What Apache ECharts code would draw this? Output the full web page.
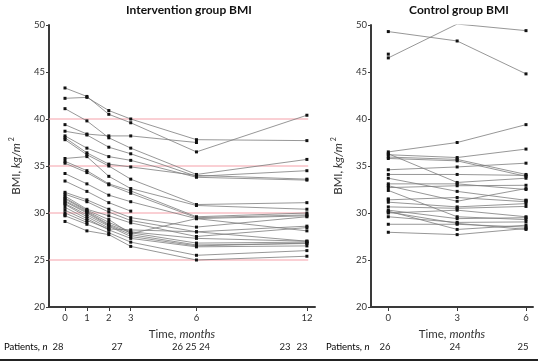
<!DOCTYPE html>
<html>
<head>
<meta charset="utf-8">
<script src="https://cdn.jsdelivr.net/npm/echarts@6/dist/echarts.min.js"></script>
<style>
html,body{margin:0;padding:0;background:#fff;}
#chart{width:538px;height:361px;}
</style>
</head>
<body>
<div id="chart"></div>
<script>
// ---------- DATA ----------
const interventionMonths = [0, 1, 2, 3, 6, 12];
const controlMonths = [0, 3, 6];
const yTicks = [20, 25, 30, 35, 40, 45, 50];
const referenceLines = [25, 30, 35, 40];

// Intervention group BMI per patient (months 0,1,2,3,6,12); null = missing
const interventionBMI = [
  [43.3, 42.4, 40.5, 39.6, 36.5, 40.4],
  [42.2, 42.3, 40.9, 40.0, 37.8, 37.7],
  [41.1, 39.8, 38.0, 36.9, 34.1, 35.7],
  [39.4, 38.4, 38.2, 38.2, 37.5, null],
  [38.7, 38.3, 37.0, 36.3, 33.9, 34.5],
  [38.2, 36.9, 36.0, 35.6, 33.8, 33.5],
  [38.0, 36.4, 35.2, 34.9, 34.0, 33.6],
  [37.8, 36.2, 35.0, 33.6, 30.9, 31.1],
  [35.8, 36.0, 33.9, 32.6, 30.8, 30.4],
  [35.5, 34.5, 33.1, 32.35, 29.6, 30.0],
  [35.3, 34.3, 33.0, 32.1, 29.5, 29.8],
  [34.2, 33.1, 31.9, 31.2, 29.4, 29.7],
  [33.4, 32.3, 31.1, 30.2, null, null],
  [32.2, 31.4, 30.4, 29.5, 28.5, 29.6],
  [32.0, 31.2, 30.1, 29.2, 28.0, 28.6],
  [31.8, 30.4, 29.7, 28.95, 27.5, 28.45],
  [31.6, 30.3, 29.3, 27.8, 29.4, 28.1],
  [31.5, 30.2, 29.0, 28.0, 27.3, 27.0],
  [31.3, 30.1, 28.8, 27.9, 26.8, 26.9],
  [31.2, 30.0, 28.7, 27.7, 26.6, 26.75],
  [31.0, 29.8, 28.6, 27.5, 26.5, 26.8],
  [30.9, 29.6, 28.4, null, null, null],
  [30.6, 29.4, 28.2, 27.3, 26.4, 26.5],
  [30.3, 29.2, 28.3, 28.2, 28.0, 27.0],
  [30.0, 29.0, null, null, null, null],
  [29.8, null, null, null, null, null],
  [29.7, 28.8, 27.9, 26.9, 25.5, 26.0],
  [29.1, 28.1, 27.7, 26.45, 25.0, 25.4]
];

// Control group BMI per patient (months 0,3,6)
const controlBMI = [
  [49.3, 48.3, 44.8],
  [46.5, 50.1, 49.4],
  [46.9, null, null],
  [36.5, 37.5, 39.4],
  [36.3, 33.25, 33.7],
  [36.2, 35.9, 36.8],
  [35.95, 35.7, 34.1],
  [35.8, 35.55, 33.9],
  [34.6, 34.9, 35.3],
  [34.1, 34.1, 34.0],
  [33.7, 32.3, 31.35],
  [33.1, 33.1, 32.5],
  [32.9, 31.25, 32.6],
  [32.7, 32.9, 32.95],
  [32.4, 29.6, 29.3],
  [31.4, 31.65, 31.2],
  [31.15, 30.65, 31.0],
  [30.65, 30.5, 30.7],
  [30.3, 29.4, 29.5],
  [30.2, 28.25, 28.7],
  [30.0, 30.3, 29.6],
  [29.6, 29.0, 29.05],
  [28.8, 28.8, 28.5],
  [27.95, 27.7, 28.35],
  [31.5, null, 31.35],
  [30.1, 28.9, 28.25]
];

const patientsLeft = ['28', '27', '26 25 24', '23', '23'];
const patientsRight = ['26', '24', '25'];

// ---------- AXIS MAPPING (the original time axis is compressed after month 6) ----------
const compress = 5.04 / 6;
function pos(m) { return m <= 6 ? m : 6 + (m - 6) * compress; }
function invPos(p) { return p <= 6 ? p : 6 + (p - 6) / compress; }

const leftMin = -0.73, leftMax = 11.41;
const rightMin = -0.754, rightMax = 6.305;

const FONT = 'Lato, "Open Sans", sans-serif';
const axisColor = '#3a3a3a';

function mkX(gridIndex, min, max, ticks) {
  const tp = ticks.map(pos);
  return {
    type: 'value', gridIndex, min, max,
    name: '{a|Time, }{b|months}',
    nameLocation: 'middle', nameGap: 16,
    nameTextStyle: { rich: {
      a: { fontFamily: FONT, fontSize: 11.5, color: '#333' },
      b: { fontFamily: FONT, fontSize: 11.5, color: '#333', fontStyle: 'italic' }
    }},
    axisLine: { show: true, onZero: false, lineStyle: { color: axisColor, width: 2 } },
    axisTick: { show: true, customValues: tp, length: 4, lineStyle: { color: axisColor, width: 1 } },
    axisLabel: { customValues: tp, margin: 6, fontSize: 9.5, color: '#333', fontFamily: FONT,
      formatter: v => String(Math.round(invPos(v))) },
    splitLine: { show: false }
  };
}
function mkY(gridIndex, gap) {
  return {
    type: 'value', gridIndex, min: 20, max: 50, interval: 5,
    name: '{a|BMI, }{b|kg/m}{s|2}',
    nameLocation: 'middle', nameGap: gap,
    nameTextStyle: { rich: {
      a: { fontFamily: FONT, fontSize: 11.5, color: '#333' },
      b: { fontFamily: FONT, fontSize: 11.5, color: '#333', fontStyle: 'italic' },
      s: { fontFamily: FONT, fontSize: 7, color: '#333', verticalAlign: 'top', padding: [0, 0, 10, 2] }
    }},
    axisLine: { show: true, onZero: false, lineStyle: { color: axisColor, width: 2 } },
    axisTick: { show: true, length: 3, lineStyle: { color: axisColor, width: 1 } },
    axisLabel: { margin: 4, fontSize: 9.5, color: '#333', fontFamily: FONT,
      customValues: yTicks },
    splitLine: { show: false }
  };
}

const series = [];
// reference lines (intervention panel)
referenceLines.forEach(v => {
  series.push({
    type: 'line', xAxisIndex: 0, yAxisIndex: 0, z: 1, silent: true,
    data: [[leftMin, v], [pos(12) + 0.06, v]],
    symbol: 'none', showSymbol: false,
    lineStyle: { color: '#f5a0a9', width: 1 },
    emphasis: { disabled: true }, animation: false
  });
});
function addPatient(vals, months, axisIndex) {
  series.push({
    type: 'line', xAxisIndex: axisIndex, yAxisIndex: axisIndex, z: 3,
    data: months.map((m, i) => [pos(m), vals[i] == null ? '-' : vals[i]]),
    symbol: 'rect', symbolSize: 3, showSymbol: true, showAllSymbol: true,
    itemStyle: { color: '#111' },
    lineStyle: { color: '#7c7c7c', width: 0.8 },
    emphasis: { disabled: true }, silent: true, animation: false
  });
}
interventionBMI.forEach(v => addPatient(v, interventionMonths, 0));
controlBMI.forEach(v => addPatient(v, controlMonths, 1));

const textStyle = (extra) => Object.assign({ fontFamily: FONT, fontSize: 11, fill: '#222' }, extra);
const patRich = { a: { fontFamily: FONT, fontSize: 9.5, color: '#222' }, b: { fontFamily: FONT, fontSize: 9.5, color: '#222', fontStyle: 'italic' } };
const graphic = [
  { type: 'text', x: 189, y: 10, style: textStyle({ text: 'Intervention group BMI', fontWeight: 'bold', fontSize: 12, textAlign: 'center', textVerticalAlign: 'middle', fill: '#111' }) },
  { type: 'text', x: 459, y: 10, style: textStyle({ text: 'Control group BMI', fontWeight: 'bold', fontSize: 12, textAlign: 'center', textVerticalAlign: 'middle', fill: '#111' }) },
  { type: 'text', x: 4, y: 347, style: { rich: patRich, text: '{a|Patients, }{b|n}', verticalAlign: 'middle' } },
  { type: 'text', x: 326, y: 347, style: { rich: patRich, text: '{a|Patients, }{b|n}', verticalAlign: 'middle' } },
  { type: 'line', shape: { x1: 0, y1: 360, x2: 538, y2: 360 }, style: { stroke: '#222', lineWidth: 2 } }
];
const leftCountX = [58, 117, 191, 285, 302];
patientsLeft.forEach((t, i) => graphic.push({ type: 'text', x: leftCountX[i], y: 347, style: textStyle({ text: t, fontSize: 9.5, textAlign: 'center', textVerticalAlign: 'middle' }) }));
const rightCountX = [385, 455, 523];
patientsRight.forEach((t, i) => graphic.push({ type: 'text', x: rightCountX[i], y: 347, style: textStyle({ text: t, fontSize: 9.5, textAlign: 'center', textVerticalAlign: 'middle' }) }));

const chart = echarts.init(document.getElementById('chart'), null, { renderer: 'canvas' });
chart.setOption({
  animation: false,
  backgroundColor: '#fff',
  grid: [
    { left: 43, right: 223, top: 25, bottom: 54, containLabel: false },
    { left: 371, right: 5, top: 25, bottom: 54, containLabel: false }
  ],
  xAxis: [mkX(0, leftMin, leftMax, interventionMonths), mkX(1, rightMin, rightMax, controlMonths)],
  yAxis: [mkY(0, 24), mkY(1, 24)],
  series,
  graphic
});
</script>
</body>
</html>
